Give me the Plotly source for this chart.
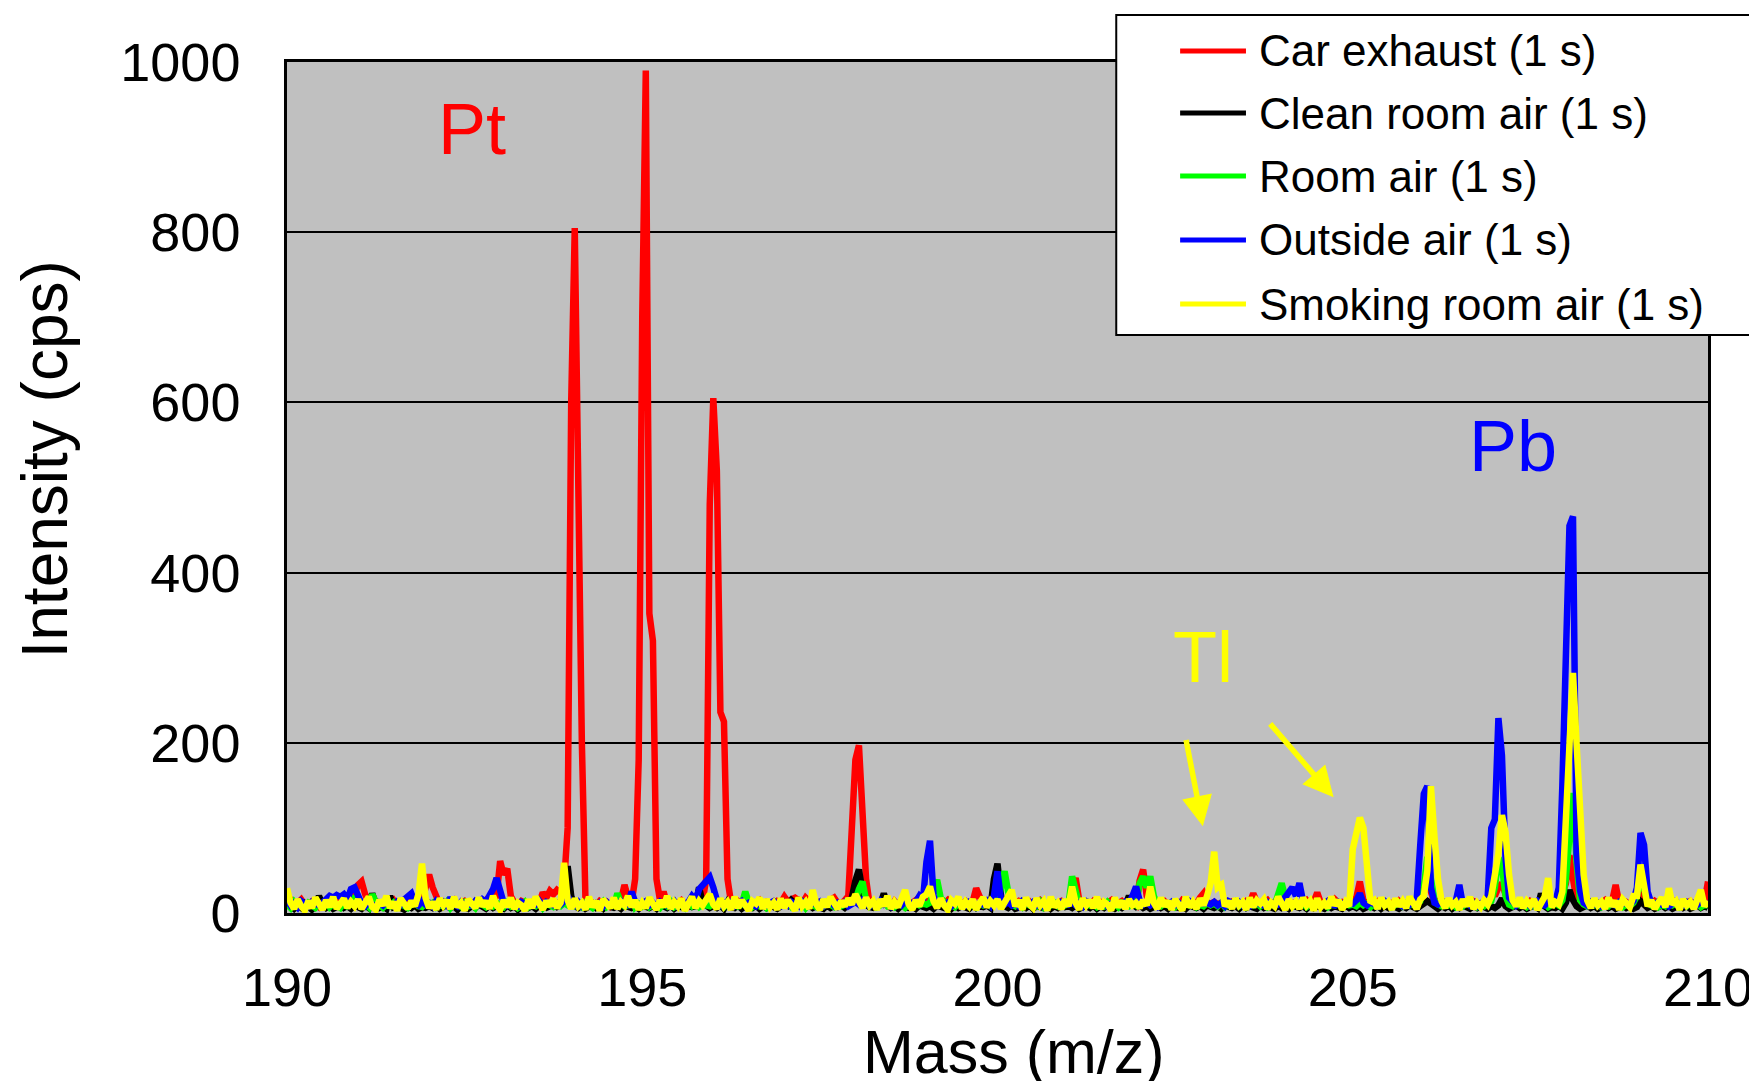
import plotly.graph_objects as go

# ---------------- data ----------------
MASS_START = 190.0
MASS_STEP = 0.05
N_POINTS = 401
MASS = [round(MASS_START + MASS_STEP * i, 2) for i in range(N_POINTS)]

SERIES_NAMES = ["Car exhaust (1 s)", "Clean room air (1 s)", "Room air (1 s)",
                "Outside air (1 s)", "Smoking room air (1 s)"]

CAR_EXHAUST = [
    22, 14, 9, 12, 16, 10, 8, 13, 11, 7, 12, 15, 9, 11, 14, 10, 13, 12, 16, 22,            # 190
    33, 37, 22, 12, 9, 14, 10, 8, 13, 11, 15, 9, 12, 10, 14, 11, 13, 9, 14, 32,            # 191
    45, 30, 18, 10, 13, 9, 12, 15, 8, 11, 14, 10, 12, 9, 13, 11, 15, 10, 14, 20,           # 192
    61, 45, 52, 20, 12, 9, 14, 11, 10, 13, 15, 12, 24, 18, 26, 22, 27, 24, 35, 100,        # 193
    600, 805, 480, 200, 18, 10, 12, 9, 14, 11, 13, 8, 12, 10, 15, 33, 18, 12, 40, 180,     # 194
    700, 990, 352, 320, 40, 15, 25, 10, 13, 9, 12, 15, 11, 8, 13, 10, 12, 14, 40, 480,     # 195
    605, 520, 236, 225, 40, 12, 9, 14, 11, 13, 10, 8, 12, 15, 9, 13, 11, 10, 14, 12,       # 196
    19, 13, 16, 18, 15, 11, 18, 13, 10, 14, 12, 9, 13, 16, 18, 12, 11, 15, 20, 100,        # 197
    180, 197, 108, 40, 10, 13, 9, 12, 15, 11, 8, 14, 10, 12, 13, 9, 11, 15, 10, 12,        # 198
    14, 10, 13, 9, 12, 11, 15, 10, 13, 8, 12, 14, 10, 13, 29, 16, 9, 12, 14, 11,           # 199
    12, 15, 10, 13, 9, 11, 14, 12, 10, 13, 8, 12, 15, 11, 9, 13, 10, 12, 14, 11,           # 200
    13, 28, 41, 15, 10, 12, 9, 14, 11, 13, 10, 12, 15, 9, 11, 14, 10, 13, 12, 9,           # 201
    38, 51, 20, 11, 13, 9, 12, 14, 10, 11, 13, 9, 15, 12, 10, 13, 11, 18, 23, 12,          # 202
    11, 13, 10, 12, 14, 9, 13, 11, 12, 10, 14, 12, 23, 13, 9, 12, 15, 10, 13, 11,          # 203
    12, 10, 14, 11, 13, 9, 12, 15, 10, 13, 24, 12, 11, 14, 10, 16, 12, 13, 11, 14,         # 204
    13, 18, 37, 15, 11, 9, 12, 14, 10, 13, 11, 12, 9, 14, 10, 12, 13, 11, 15, 22,          # 205
    30, 53, 25, 12, 14, 10, 13, 11, 12, 9, 15, 11, 13, 10, 14, 12, 11, 13, 16, 26,         # 206
    20, 30, 35, 22, 15, 12, 10, 13, 11, 9, 14, 12, 10, 13, 12, 11, 14, 15, 18, 22,         # 207
    35, 68, 40, 15, 12, 10, 14, 11, 13, 9, 12, 15, 10, 14, 33, 12, 11, 13, 10, 12,         # 208
    15, 29, 20, 12, 10, 14, 11, 13, 9, 12, 15, 11, 10, 13, 12, 14, 10, 12, 15, 13,         # 209
    37,                                                                                     # 210
]

CLEAN_ROOM_AIR = [
    12, 8, 5, 9, 6, 11, 7, 4, 8, 20, 10, 6, 9, 5, 7, 10, 6, 8, 5, 9,
    7, 5, 9, 6, 23, 10, 6, 8, 5, 20, 7, 9, 6, 4, 8, 6, 9, 5, 7, 6,
    8, 6, 9, 5, 7, 10, 6, 8, 4, 9, 7, 5, 8, 6, 10, 7, 5, 9, 6, 8,
    7, 5, 9, 6, 8, 4, 7, 10, 6, 8, 5, 9, 7, 6, 8, 10, 7, 9, 30, 55,
    20, 8, 6, 9, 5, 7, 10, 6, 8, 5, 9, 7, 6, 8, 5, 9, 7, 6, 8, 5,
    9, 7, 6, 8, 5, 10, 7, 6, 9, 5, 8, 7, 6, 9, 7, 8, 30, 12, 9, 6,
    8, 6, 9, 5, 13, 7, 6, 9, 5, 8, 7, 6, 9, 5, 8, 6, 9, 7, 5, 8,
    12, 9, 15, 11, 14, 8, 7, 9, 6, 8, 7, 5, 9, 6, 8, 7, 9, 6, 10, 18,
    38, 51, 25, 9, 7, 6, 8, 10, 23, 9, 6, 8, 5, 9, 7, 6, 8, 5, 9, 7,
    6, 8, 5, 9, 7, 6, 8, 5, 9, 6, 8, 7, 5, 9, 6, 8, 7, 9, 6, 40,
    58, 20, 8, 6, 9, 5, 7, 8, 6, 9, 5, 8, 7, 6, 9, 5, 8, 6, 9, 7,
    8, 6, 9, 5, 7, 8, 6, 9, 5, 8, 6, 9, 7, 5, 8, 6, 9, 20, 10, 7,
    9, 6, 8, 5, 7, 9, 6, 8, 5, 9, 7, 6, 8, 5, 9, 7, 6, 8, 5, 9,
    7, 6, 8, 5, 9, 7, 6, 8, 5, 9, 6, 8, 7, 5, 9, 6, 8, 7, 5, 9,
    6, 8, 5, 9, 7, 6, 8, 5, 9, 6, 8, 7, 5, 9, 6, 8, 7, 5, 9, 6,
    8, 6, 9, 5, 7, 8, 6, 9, 5, 8, 6, 9, 7, 5, 8, 6, 9, 7, 5, 8,
    10, 14, 11, 7, 5, 8, 6, 9, 5, 8, 6, 9, 7, 5, 8, 6, 9, 7, 5, 8,
    6, 9, 17, 8, 5, 7, 9, 6, 8, 5, 7, 9, 6, 23, 8, 5, 7, 6, 9, 5,
    12, 27, 15, 8, 5, 7, 9, 6, 8, 5, 7, 9, 6, 8, 5, 7, 9, 6, 8, 5,
    7, 14, 9, 6, 8, 5, 7, 9, 6, 8, 5, 7, 9, 6, 8, 5, 7, 9, 6, 8,
    6,
]

ROOM_AIR = [
    10, 6, 13, 8, 11, 7, 12, 9, 6, 10, 8, 13, 7, 11, 9, 6, 12, 8, 10, 20,
    14, 8, 11, 7, 22, 13, 9, 6, 10, 8, 12, 7, 11, 9, 6, 10, 13, 8, 7, 11,
    9, 12, 7, 10, 8, 13, 6, 11, 9, 7, 12, 8, 10, 6, 13, 9, 7, 11, 8, 12,
    10, 7, 12, 8, 11, 6, 9, 13, 7, 10, 8, 12, 6, 11, 9, 7, 10, 8, 12, 9,
    11, 8, 10, 7, 12, 9, 6, 11, 8, 13, 7, 10, 9, 23, 12, 8, 9, 20, 7, 11,
    8, 12, 7, 10, 9, 6, 11, 8, 13, 7, 10, 9, 6, 12, 8, 11, 7, 10, 9, 8,
    12, 8, 10, 7, 11, 9, 13, 8, 10, 25, 12, 7, 10, 8, 11, 6, 9, 12, 8, 10,
    9, 11, 7, 10, 8, 12, 6, 11, 9, 7, 10, 8, 12, 9, 7, 11, 8, 10, 12, 12,
    15, 28, 37, 15, 8, 11, 7, 9, 12, 8, 10, 7, 11, 9, 6, 10, 8, 12, 9, 11,
    10, 12, 25, 39, 18, 12, 8, 10, 7, 11, 9, 13, 8, 10, 7, 12, 9, 11, 8, 10,
    12, 30, 49, 25, 10, 8, 11, 7, 12, 9, 10, 8, 13, 7, 11, 9, 12, 8, 10, 9,
    11, 43, 22, 10, 8, 12, 9, 11, 7, 10, 8, 13, 9, 11, 7, 12, 10, 8, 11, 9,
    35, 43, 30, 43, 20, 10, 8, 12, 9, 11, 7, 10, 8, 12, 9, 11, 7, 10, 8, 12,
    9, 11, 8, 12, 7, 10, 9, 13, 8, 11, 7, 10, 9, 12, 8, 11, 7, 10, 9, 20,
    35, 18, 10, 8, 12, 9, 11, 7, 10, 8, 13, 9, 11, 7, 10, 9, 12, 8, 11, 9,
    10, 8, 12, 9, 11, 7, 10, 8, 13, 9, 11, 7, 10, 12, 8, 11, 9, 10, 12, 14,
    30, 66, 40, 15, 10, 8, 12, 9, 11, 7, 10, 8, 12, 9, 11, 7, 10, 8, 12, 14,
    30, 65, 55, 20, 10, 8, 12, 9, 11, 7, 10, 8, 12, 9, 11, 7, 10, 12, 9, 15,
    40, 100, 141, 60, 15, 10, 8, 12, 9, 11, 7, 10, 8, 12, 9, 11, 7, 10, 8, 12,
    20, 46, 25, 12, 9, 11, 7, 10, 8, 12, 9, 11, 7, 10, 8, 12, 9, 11, 7, 10,
    9,
]

OUTSIDE_AIR = [
    15, 9, 12, 7, 14, 10, 8, 13, 11, 9, 12, 17, 20, 18, 21, 19, 22, 16, 28, 30,
    18, 11, 8, 13, 10, 7, 12, 9, 14, 11, 8, 13, 10, 16, 19, 23, 12, 9, 14, 10,
    12, 8, 14, 10, 13, 9, 18, 11, 8, 13, 10, 12, 9, 14, 11, 16, 13, 20, 28, 41,
    25, 12, 9, 14, 10, 8, 13, 11, 9, 12, 10, 14, 8, 13, 11, 9, 12, 10, 14, 20,
    12, 9, 13, 8, 11, 14, 10, 9, 12, 8, 13, 10, 11, 9, 14, 12, 10, 25, 13, 9,
    11, 14, 9, 12, 8, 13, 10, 9, 11, 14, 8, 12, 10, 13, 20, 15, 28, 32, 38, 42,
    30, 15, 9, 12, 10, 13, 8, 11, 14, 9, 12, 10, 8, 13, 11, 9, 12, 14, 10, 8,
    12, 9, 13, 10, 8, 14, 11, 9, 12, 10, 13, 8, 11, 14, 9, 12, 10, 13, 8, 11,
    13, 10, 15, 12, 8, 11, 9, 14, 10, 12, 8, 13, 11, 9, 14, 10, 12, 13, 20, 15,
    60, 85, 20, 10, 13, 9, 12, 8, 11, 14, 10, 9, 13, 11, 8, 12, 10, 14, 9, 20,
    49, 15, 10, 13, 9, 12, 8, 14, 11, 10, 13, 9, 12, 8, 11, 14, 10, 9, 13, 11,
    10, 13, 9, 12, 8, 14, 11, 10, 13, 9, 12, 8, 11, 14, 10, 9, 13, 11, 20, 31,
    15, 10, 13, 9, 12, 8, 14, 11, 10, 13, 9, 12, 8, 11, 14, 10, 9, 13, 11, 12,
    10, 13, 9, 12, 8, 14, 11, 10, 13, 9, 12, 8, 11, 14, 10, 9, 13, 11, 12, 10,
    13, 18, 22, 30, 20, 35, 14, 10, 13, 9, 12, 8, 11, 14, 10, 9, 13, 11, 10, 12,
    11, 15, 23, 12, 9, 13, 10, 8, 12, 14, 10, 9, 13, 11, 8, 12, 10, 14, 15, 80,
    140, 149, 30, 12, 10, 13, 9, 12, 11, 14, 33, 10, 13, 9, 12, 8, 11, 14, 20, 100,
    110, 229, 185, 65, 18, 12, 9, 13, 10, 12, 8, 11, 14, 10, 9, 13, 11, 12, 30, 150,
    300, 455, 466, 70, 26, 12, 9, 13, 10, 12, 8, 11, 14, 10, 9, 13, 11, 12, 10, 14,
    30, 94, 80, 25, 12, 9, 13, 10, 12, 8, 11, 14, 10, 9, 13, 11, 12, 10, 14, 11,
    12,
]

SMOKING_ROOM_AIR = [
    29, 12, 5, 16, 8, 3, 14, 6, 18, 9, 4, 15, 7, 19, 5, 11, 17, 6, 13, 8,
    16, 5, 12, 19, 7, 4, 15, 9, 20, 6, 13, 3, 17, 10, 5, 14, 8, 22, 58, 18,
    6, 13, 4, 17, 9, 15, 5, 19, 7, 12, 3, 16, 10, 6, 18, 8, 14, 5, 20, 9,
    4, 15, 7, 18, 5, 12, 9, 3, 16, 6, 19, 11, 4, 14, 8, 17, 6, 12, 59, 15,
    5, 17, 8, 12, 4, 19, 7, 14, 3, 16, 10, 6, 18, 5, 13, 9, 20, 7, 15, 4,
    12, 6, 18, 9, 4, 15, 7, 20, 5, 13, 8, 17, 3, 11, 19, 6, 14, 9, 16, 22,
    10, 5, 17, 8, 13, 4, 19, 6, 15, 9, 3, 14, 11, 18, 5, 16, 7, 12, 4, 17,
    6, 15, 9, 3, 18, 8, 13, 5, 27, 10, 4, 16, 7, 19, 12, 5, 14, 8, 17, 10,
    22, 12, 6, 18, 9, 14, 4, 16, 8, 20, 5, 13, 7, 17, 27, 10, 4, 15, 8, 19,
    22, 31, 14, 6, 17, 9, 4, 15, 11, 19, 5, 13, 8, 16, 4, 12, 18, 7, 14, 9,
    16, 5, 13, 20, 27, 8, 15, 4, 18, 10, 6, 17, 9, 14, 3, 19, 7, 12, 5, 16,
    8, 31, 12, 4, 17, 9, 15, 6, 19, 5, 13, 10, 3, 18, 7, 14, 5, 16, 9, 12,
    6, 15, 9, 31, 12, 5, 18, 8, 14, 4, 16, 10, 3, 19, 7, 13, 5, 17, 9, 20,
    35, 72, 30, 33, 8, 14, 5, 17, 9, 13, 4, 18, 7, 15, 11, 16, 5, 12, 8, 19,
    10, 4, 16, 8, 13, 5, 18, 9, 14, 3, 17, 7, 12, 6, 19, 9, 15, 4, 13, 8,
    75, 90, 112, 100, 60, 12, 15, 5, 18, 9, 13, 4, 17, 8, 14, 6, 19, 10, 5, 16,
    20, 50, 149, 90, 40, 14, 6, 17, 9, 13, 4, 16, 8, 19, 5, 12, 7, 15, 10, 20,
    45, 70, 115, 95, 45, 15, 8, 18, 6, 14, 9, 16, 4, 12, 19, 41, 7, 13, 10, 25,
    100, 200, 282, 200, 100, 45, 15, 6, 17, 9, 13, 5, 18, 8, 14, 4, 16, 10, 7, 20,
    20, 57, 30, 8, 15, 5, 12, 18, 7, 29, 10, 14, 4, 16, 9, 13, 5, 18, 27, 8,
    14,
]

SERIES = [CAR_EXHAUST, CLEAN_ROOM_AIR, ROOM_AIR, OUTSIDE_AIR, SMOKING_ROOM_AIR]
COLORS = ["#FF0000", "#000000", "#00FF00", "#0000FF", "#FFFF00"]

X_TICKS = [190, 195, 200, 205, 210]
Y_TICKS = [0, 200, 400, 600, 800, 1000]

# ---------------- layout geometry ----------------
W, H = 1757, 1081
L, R, T, B = 279, 1703, 54, 905   # plot area in pixels
FONT = "Liberation Sans, Arial, sans-serif"


def px(xp):
    return (xp - L) / (R - L)


def py(yp):
    return (B - yp) / (B - T)


fig = go.Figure()
for name, ys, color in zip(SERIES_NAMES, SERIES, COLORS):
    fig.add_trace(go.Scatter(
        x=MASS, y=ys, mode="lines", name=name, showlegend=False,
        line=dict(color=color, width=6.5),
    ))

shapes = []
annotations = []

# legend box (drawn manually to match the original long line samples)
shapes.append(dict(type="rect", xref="paper", yref="paper",
                   x0=px(1110), x1=px(1752), y0=py(327), y1=py(7),
                   fillcolor="white", line=dict(color="black", width=2), layer="above"))
legend_rows = [43, 105, 168, 232, 296]
for name, color, yc in zip(SERIES_NAMES, COLORS, legend_rows):
    shapes.append(dict(type="line", xref="paper", yref="paper",
                       x0=px(1174), x1=px(1240), y0=py(yc), y1=py(yc),
                       line=dict(color=color, width=5), layer="above"))
    annotations.append(dict(text=name, xref="paper", yref="paper",
                            x=px(1251), y=py(yc), xanchor="left", yanchor="middle",
                            showarrow=False, font=dict(family=FONT, size=44, color="black")))

# element labels
annotations += [
    dict(text="Pt", x=192.61, y=921, xref="x", yref="y", showarrow=False,
         font=dict(family=FONT, size=72, color="#FF0000")),
    dict(text="Pb", x=207.26, y=549, xref="x", yref="y", showarrow=False,
         font=dict(family=FONT, size=72, color="#0000FF")),
    dict(text="Tl", x=202.89, y=301, xref="x", yref="y", showarrow=False,
         font=dict(family=FONT, size=72, color="#FFFF00")),
]
# Tl arrows
for (tx, ty, hx, hy) in [(202.65, 205, 202.89, 102), (203.82, 224, 204.73, 136)]:
    annotations.append(dict(text="", x=hx, y=hy, ax=tx, ay=ty, xref="x", yref="y",
                            axref="x", ayref="y", showarrow=True, arrowhead=2,
                            arrowsize=1.1, arrowwidth=5.5, arrowcolor="#FFFF00", standoff=0))

# axis titles
annotations += [
    dict(text="Mass (m/z)", xref="paper", yref="paper", x=px(1008), y=py(1044),
         xanchor="center", yanchor="middle", showarrow=False,
         font=dict(family=FONT, size=61, color="black")),
    dict(text="Intensity (cps)", xref="paper", yref="paper", x=px(36), y=py(452),
         xanchor="center", yanchor="middle", textangle=-90, showarrow=False,
         font=dict(family=FONT, size=64, color="black")),
]

fig.update_layout(
    width=W, height=H,
    margin=dict(l=L, r=W - R, t=T, b=H - B, pad=0),
    paper_bgcolor="white", plot_bgcolor="#C0C0C0",
    font=dict(family=FONT, color="black"),
    shapes=shapes, annotations=annotations, showlegend=False,
)
fig.update_xaxes(range=[190, 210], tickvals=X_TICKS, ticktext=[str(v) for v in X_TICKS],
                 showgrid=False, zeroline=False, showline=True, mirror=True,
                 linecolor="black", linewidth=2.5, ticks="",
                 tickfont=dict(family=FONT, size=54, color="black"), ticklabelstandoff=25)
fig.update_yaxes(range=[0, 1000], tickvals=Y_TICKS, ticktext=[str(v) for v in Y_TICKS],
                 showgrid=True, gridcolor="black", gridwidth=2, zeroline=False,
                 showline=True, mirror=True, linecolor="black", linewidth=2.5, ticks="",
                 tickfont=dict(family=FONT, size=54, color="black"), ticklabelstandoff=33)

fig.write_html("out.html")
